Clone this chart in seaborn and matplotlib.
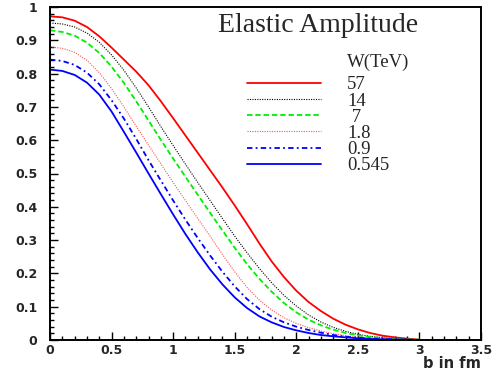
import matplotlib
matplotlib.use("Agg")
import matplotlib.pyplot as plt
import seaborn as sns
import pandas as pd

# ---- data ----
b_fm = [0.0, 0.1, 0.2, 0.3, 0.4, 0.5, 0.6, 0.7, 0.8, 0.9, 1.0, 1.1, 1.2, 1.3, 1.4, 1.5,
        1.6, 1.7, 1.8, 1.9, 2.0, 2.1, 2.2, 2.3, 2.4, 2.5, 2.6, 2.7, 2.8, 2.9, 3.0]
amp_57 = [0.972, 0.969, 0.959, 0.940, 0.912, 0.878, 0.842, 0.806, 0.765, 0.717, 0.666,
          0.614, 0.562, 0.510, 0.458, 0.404, 0.348, 0.290, 0.236, 0.189, 0.148, 0.114,
          0.087, 0.064, 0.046, 0.032, 0.021, 0.013, 0.008, 0.004, 0.001]
amp_14 = [0.952, 0.949, 0.940, 0.922, 0.894, 0.856, 0.810, 0.757, 0.700, 0.641, 0.584,
          0.528, 0.473, 0.419, 0.365, 0.312, 0.262, 0.215, 0.172, 0.134, 0.102, 0.075,
          0.054, 0.038, 0.026, 0.017, 0.011, 0.007, 0.004, 0.002, 0.001]
amp_7 = [0.930, 0.925, 0.914, 0.893, 0.862, 0.821, 0.772, 0.717, 0.659, 0.601, 0.545,
         0.490, 0.436, 0.382, 0.329, 0.277, 0.228, 0.184, 0.145, 0.111, 0.083, 0.061,
         0.044, 0.031, 0.021, 0.014, 0.009, 0.006, 0.003, 0.002, 0.001]
amp_1p8 = [0.880, 0.876, 0.864, 0.840, 0.803, 0.755, 0.700, 0.642, 0.585, 0.529, 0.473,
           0.419, 0.365, 0.312, 0.257, 0.205, 0.158, 0.120, 0.090, 0.067, 0.050, 0.037,
           0.027, 0.019, 0.013, 0.009, 0.006, 0.004, 0.002, 0.001, 0.000]
amp_0p9 = [0.842, 0.838, 0.826, 0.803, 0.768, 0.720, 0.665, 0.604, 0.540, 0.479, 0.419,
           0.361, 0.306, 0.254, 0.205, 0.161, 0.123, 0.093, 0.070, 0.053, 0.040, 0.030,
           0.022, 0.015, 0.010, 0.007, 0.004, 0.003, 0.002, 0.001, 0.000]
amp_0p545 = [0.812, 0.808, 0.796, 0.773, 0.737, 0.686, 0.625, 0.563, 0.500, 0.438, 0.377,
             0.318, 0.263, 0.212, 0.167, 0.128, 0.096, 0.071, 0.053, 0.039, 0.029, 0.021,
             0.015, 0.011, 0.008, 0.005, 0.003, 0.002, 0.001, 0.001, 0.000]

series_labels = ["57", "14", " 7", "1.8", "0.9", "0.545"]
series_values = [amp_57, amp_14, amp_7, amp_1p8, amp_0p9, amp_0p545]

x_ticks = [0, 0.5, 1, 1.5, 2, 2.5, 3, 3.5]
x_tick_labels = ["0", "0.5", "1", "1.5", "2", "2.5", "3", "3.5"]
y_ticks = [0, 0.1, 0.2, 0.3, 0.4, 0.5, 0.6, 0.7, 0.8, 0.9, 1.0]
y_tick_labels = ["0", "0.1", "0.2", "0.3", "0.4", "0.5", "0.6", "0.7", "0.8", "0.9", "1"]

title_text = "Elastic Amplitude"
legend_header = "W(TeV)"
x_label = "b in fm"

# ---- styles ----
styles = [
    dict(color="#ff0000", lw=1.3, ls="-"),
    dict(color="#000000", lw=0.8, ls=(0, (1.0, 1.2))),
    dict(color="#00ee00", lw=1.3, ls=(0, (3.0, 1.6))),
    dict(color="#ff5050", lw=0.8, ls=(0, (1.0, 1.2))),
    dict(color="#0000ff", lw=1.3, ls=(0, (3.0, 1.8, 1.0, 1.8))),
    dict(color="#0000ff", lw=1.3, ls="-"),
]

sns.set_style("white")
plt.rcParams["font.family"] = ["DejaVu Sans"]

fig = plt.figure(figsize=(4.96, 3.78), dpi=100)
ax = fig.add_axes([50 / 496, 1 - 340 / 378, 431 / 496, 333 / 378])

for lab, vals, st in zip(series_labels, series_values, styles):
    df = pd.DataFrame({"b": b_fm, "amp": vals})
    sns.lineplot(data=df, x="b", y="amp", ax=ax, color=st["color"],
                 linewidth=st["lw"], linestyle=st["ls"], label=lab)

ax.set_xlim(0, 3.5)
ax.set_ylim(0, 1.0)
ax.set_xlabel("")
ax.set_ylabel("")

ax.set_xticks(x_ticks)
ax.set_xticklabels(x_tick_labels, fontweight="bold", fontsize=9)
ax.set_xticks([i / 10 for i in range(36)], minor=True)
ax.set_yticks(y_ticks)
ax.set_yticklabels(y_tick_labels, fontweight="bold", fontsize=9)
ax.set_yticks([i / 50 for i in range(51)], minor=True)

ax.tick_params(axis="both", which="major", direction="in", length=5.5, width=1.0,
               top=False, right=False, bottom=True, left=True, color="black")
ax.tick_params(axis="both", which="minor", direction="in", length=2.8, width=1.0,
               top=False, right=False, bottom=True, left=True, color="black")
ax.tick_params(axis="x", which="major", pad=3)
ax.tick_params(axis="y", which="major", pad=9)

for sp in ax.spines.values():
    sp.set_visible(True)
    sp.set_color("black")
    sp.set_linewidth(1.4)

ax.text(0.622, 0.925, title_text, transform=ax.transAxes, ha="center", va="baseline",
        family="Liberation Serif", fontsize=20)
ax.text(0.689, 0.835, legend_header, transform=ax.transAxes, ha="left", va="center",
        family="Liberation Serif", fontsize=13.5)

leg = ax.legend(loc="upper left", bbox_to_anchor=(0.457, 0.792), frameon=False,
                prop={"family": "Liberation Serif", "size": 13.5},
                handlelength=3.95, handletextpad=1.4, labelspacing=-0.05,
                borderpad=0, borderaxespad=0)

fig.text(481 / 496, 1 - 367.5 / 378, x_label, ha="right", va="baseline",
         fontweight="bold", fontsize=10.5)

fig.savefig("out.png", dpi=100)
